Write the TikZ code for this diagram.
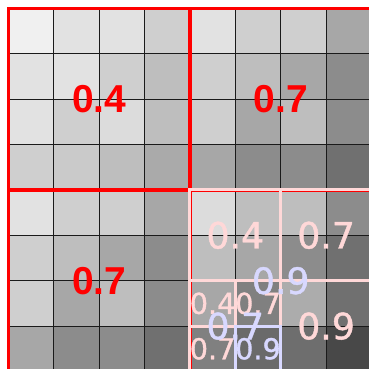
\documentclass[tikz,border=0pt]{standalone}
\usepackage{fontspec}
\setmainfont{Liberation Sans}
\newfontfamily\djv{DejaVu Sans}[FakeBold=1.2]
\definecolor{boxred}{HTML}{FF0000}
\definecolor{boxpink}{HTML}{FFD8D8}
\definecolor{boxlav}{HTML}{D8D8FF}
\definecolor{gridc}{HTML}{1A1A1A}
\tikzset{
  gridline/.style={draw=gridc, line width=0.75pt},
  redbox/.style={draw=boxred, line width=2.1pt},
  pinkbox/.style={draw=boxpink, line width=1.9pt},
  lavbox/.style={draw=boxlav, line width=1.9pt},
  redlbl/.style={text=boxred, inner sep=0pt, font=\bfseries\fontsize{24.4}{28}\selectfont},
  pinklbl/.style={text=boxpink, inner sep=0pt, font=\djv\fontsize{22.7}{28}\selectfont},
  pinksmall/.style={text=boxpink, inner sep=0pt, font=\djv\fontsize{18}{22}\selectfont},
  lavlbl/.style={text=boxlav, inner sep=0pt, font=\djv\fontsize{22.7}{28}\selectfont},
  lavsmall/.style={text=boxlav, inner sep=0pt, font=\djv\fontsize{18}{22}\selectfont},
}
\begin{document}
\begin{tikzpicture}[x=1cm,y=-1cm]
\useasboundingbox (-0.183,-0.183) rectangle (7.945,7.945);
\clip (-0.183,-0.183) rectangle (7.945,7.945);
\fill[white] (-0.183,-0.183) rectangle (7.945,7.945);
\foreach \row [count=\r from 0] in {
  {240,226,226,207,226,207,207,167},
  {226,226,207,190,207,190,167,140},
  {226,207,220,190,207,167,190,140},
  {207,202,190,170,167,140,140,112},
  {226,207,207,167,220,190,190,140},
  {207,190,167,140,190,167,140,112},
  {207,167,190,140,167,128,172,112},
  {167,140,140,112,128,106,110,72}} {
  \foreach \v [count=\c from 0] in \row {
    \fill[fill={rgb,255:red,\v;green,\v;blue,\v}] (\c,\r) rectangle ++(1,1);
  }
}
\draw[gridline] (0,0) grid (8,8);
% red quadrants
\draw[redbox] (0,0) rectangle (4,4);
\draw[redbox] (4,0) rectangle (8,4);
\draw[redbox] (0,4) rectangle (4,8);
\node[redlbl] (q1) at (2,2) {0.4};
\node[redlbl] (q2) at (6,2) {0.7};
\node[redlbl] (q3) at (2,6) {0.7};
% pink subdivision
\draw[pinkbox] (4,4) rectangle (6,6);
\draw[pinkbox] (6,4) rectangle (8,6);
\draw[pinkbox] (6,6) rectangle (8,8);
\draw[pinkbox] (4,6) rectangle (6,8);
\draw[pinkbox] (4,6) rectangle (5,7);
\draw[pinkbox] (5,6) rectangle (6,7);
\draw[pinkbox] (4,7) rectangle (5,8);
\draw[pinkbox] (5,7) rectangle (6,8);
\node[pinklbl] (p1) at (5,5) {0.4};
\node[pinklbl] (p2) at (7,5) {0.7};
\node[pinklbl] (p3) at (7,7) {0.9};
\node[pinksmall] (s1) at (4.5,6.5) {0.4};
\node[pinksmall] (s2) at (5.5,6.5) {0.7};
\node[pinksmall] (s3) at (4.5,7.5) {0.7};
% lavender
\draw[lavbox] (5,7) rectangle (6,8);
\node[lavsmall] (s4) at (5.5,7.5) {0.9};
\node[lavlbl] (l1) at (6,6) {0.9};
\node[lavlbl] (l2) at (5,7) {0.7};
\end{tikzpicture}
\end{document}
